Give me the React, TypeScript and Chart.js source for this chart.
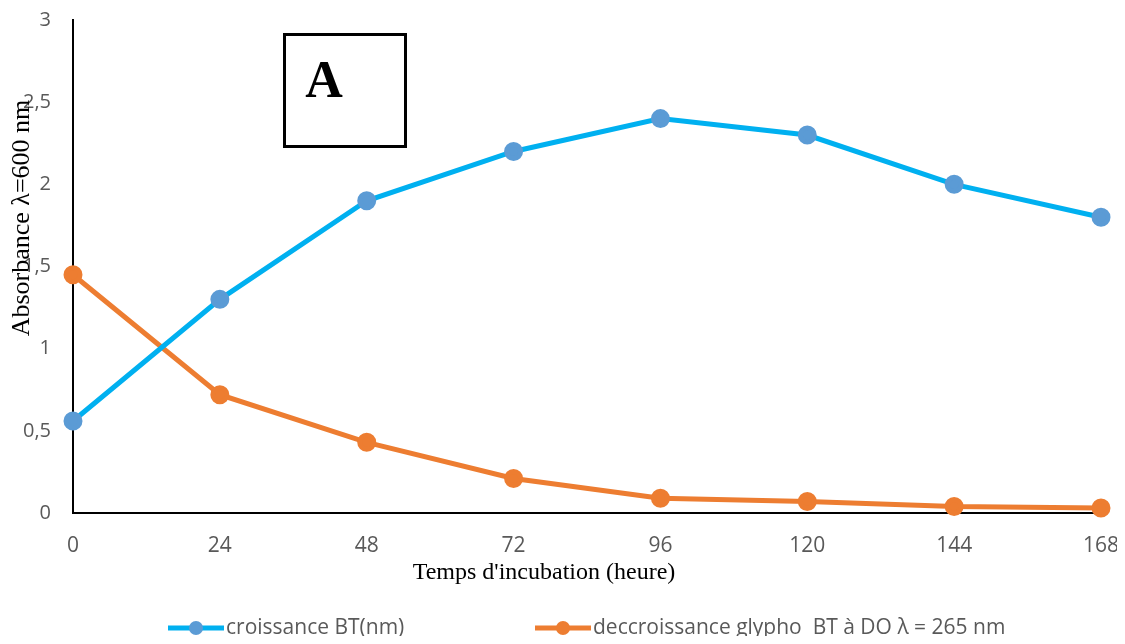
import React, { useEffect, useRef } from "react";
import { Chart, registerables } from "chart.js";

Chart.register(...registerables);

const categories = ["0", "24", "48", "72", "96", "120", "144", "168"];
const croissance = [0.56, 1.3, 1.9, 2.2, 2.4, 2.3, 2.0, 1.8];
const decroissance = [1.45, 0.72, 0.43, 0.21, 0.09, 0.07, 0.04, 0.03];
const seriesNames = ["croissance BT(nm)", "deccroissance glypho  BT à DO λ = 265 nm"];
const yTitle = "Absorbance λ=600 nm";
const xTitle = "Temps d'incubation (heure)";
const panelLabel = "A";

const BLUE_LINE = "#00B0F0";
const BLUE_MARK = "#5B9BD5";
const ORANGE = "#ED7D31";
const TICK_FONT = "'Open Sans', sans-serif";
const SERIF = "'Liberation Serif', 'Times New Roman', serif";

const overlay = {
  id: "overlay",
  afterDraw(chart: any) {
    const ctx = chart.ctx as CanvasRenderingContext2D;
    ctx.save();
    ctx.fillStyle = "#000";
    ctx.font = `26px ${SERIF}`;
    ctx.textAlign = "center";
    ctx.textBaseline = "middle";
    ctx.save();
    ctx.translate(14, 210);
    ctx.rotate(-Math.PI / 2);
    ctx.fillText(yTitle, 0, 0);
    ctx.restore();
    ctx.font = `24px ${SERIF}`;
    ctx.fillText(xTitle, 536, 565);
    ctx.lineWidth = 3;
    ctx.strokeStyle = "#000";
    ctx.strokeRect(276.5, 26.5, 121, 112);
    ctx.font = `bold 52px ${SERIF}`;
    ctx.textAlign = "center";
    ctx.textBaseline = "alphabetic";
    ctx.fillText(panelLabel, 316, 89);
    const items = [
      { x: 160, line: BLUE_LINE, mark: BLUE_MARK, text: seriesNames[0] },
      { x: 527, line: ORANGE, mark: ORANGE, text: seriesNames[1] },
    ];
    const ly = 620;
    ctx.font = `21px ${TICK_FONT}`;
    ctx.textAlign = "left";
    ctx.textBaseline = "middle";
    for (const it of items) {
      ctx.strokeStyle = it.line;
      ctx.lineWidth = 5;
      ctx.beginPath();
      ctx.moveTo(it.x, ly);
      ctx.lineTo(it.x + 56, ly);
      ctx.stroke();
      ctx.fillStyle = it.mark;
      ctx.beginPath();
      ctx.arc(it.x + 28, ly, 7, 0, Math.PI * 2);
      ctx.fill();
      ctx.fillStyle = "#595959";
      ctx.fillText(it.text, it.x + 58, ly);
    }
    ctx.restore();
  },
};

export default function App() {
  const ref = useRef<HTMLCanvasElement>(null);
  useEffect(() => {
    if (!ref.current) return;
    const chart = new Chart(ref.current, {
      type: "line",
      data: {
        labels: categories,
        datasets: [
          {
            label: seriesNames[0],
            data: croissance,
            borderColor: BLUE_LINE,
            backgroundColor: BLUE_MARK,
            pointBackgroundColor: BLUE_MARK,
            pointBorderColor: BLUE_MARK,
            borderWidth: 5,
            pointRadius: 7,
            tension: 0,
            clip: false,
          },
          {
            label: seriesNames[1],
            data: decroissance,
            borderColor: ORANGE,
            backgroundColor: ORANGE,
            pointBackgroundColor: ORANGE,
            pointBorderColor: ORANGE,
            borderWidth: 5,
            pointRadius: 7,
            tension: 0,
            clip: false,
          },
        ],
      },
      options: {
        animation: false,
        responsive: true,
        maintainAspectRatio: false,
        layout: { padding: { left: 0, right: 16, top: 12, bottom: 83 } },
        plugins: { legend: { display: false }, tooltip: { enabled: false } },
        scales: {
          x: {
            type: "category",
            offset: false,
            grid: { display: false, drawTicks: false },
            border: { display: true, color: "#000", width: 2 },
            ticks: {
              color: "#595959",
              font: { family: TICK_FONT, size: 21 },
              padding: 20,
              maxRotation: 0,
              autoSkip: false,
            },
            afterFit: (s: any) => {
              s.height = 40;
              s.paddingLeft = 0;
              s.paddingRight = 0;
            },
          },
          y: {
            min: 0,
            max: 3,
            grid: { display: false, drawTicks: false },
            border: { display: true, color: "#000", width: 2 },
            ticks: {
              stepSize: 0.5,
              color: "#595959",
              font: { family: TICK_FONT, size: 20 },
              padding: 22,
              callback: (v: any) => String(v).replace(".", ","),
            },
            afterFit: (s: any) => {
              s.width = 65;
              s.paddingTop = 0;
              s.paddingBottom = 0;
            },
          },
        },
      },
      plugins: [overlay],
    });
    return () => chart.destroy();
  }, []);
  return (
    <div style={{ width: 1109, height: 628, position: "relative" }}>
      <canvas ref={ref} />
    </div>
  );
}
